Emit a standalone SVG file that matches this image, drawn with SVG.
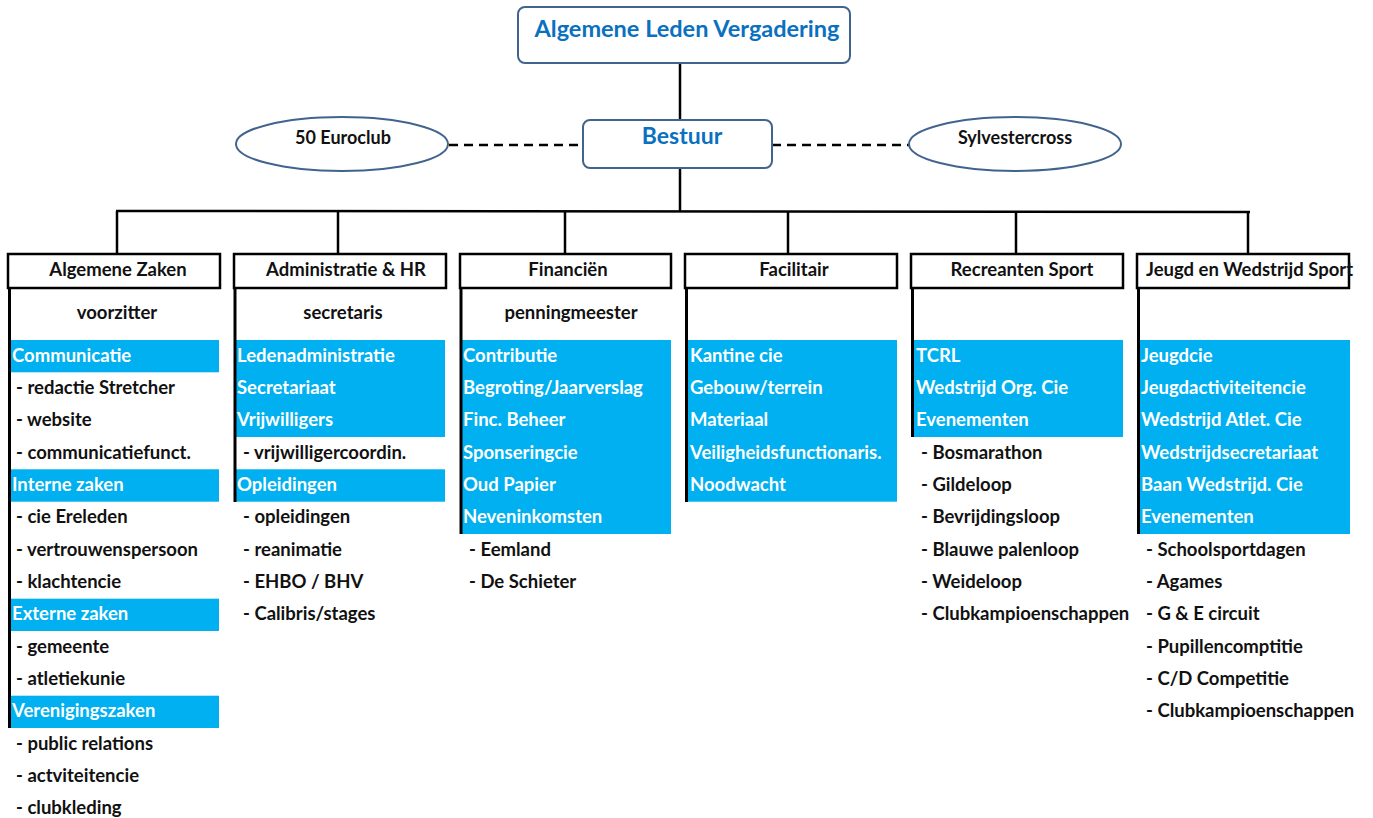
<svg xmlns="http://www.w3.org/2000/svg" width="1373" height="818" viewBox="0 0 1373 818">
<style>
text{font-family:Lato,"Liberation Sans",sans-serif;font-weight:bold;}
.top{fill:#fff;stroke:#41648f;stroke-width:2;}
.title{fill:#0a70c0;font-size:23.5px;text-anchor:middle;}
.oval{fill:#fff;stroke:#41648f;stroke-width:2;}
.otext{fill:#111;font-size:18px;text-anchor:middle;}
.hdr{fill:#fff;stroke:#000;stroke-width:2.5;}
.htext{fill:#111;font-size:18.5px;text-anchor:middle;}
.bar{stroke:#000;stroke-width:3;}
.blue{fill:#00b0f0;}
.w{fill:#fff;font-size:18.5px;}
.k{fill:#111;font-size:18.5px;}
.line{stroke:#000;stroke-width:2.5;fill:none;}
.dash{stroke:#000;stroke-width:2.5;stroke-dasharray:9 6;fill:none;}
</style>
<g id="connectors">
<line class="line" x1="680" y1="63" x2="680" y2="120"/>
<line class="line" x1="680" y1="168" x2="680" y2="211"/>
<line class="line" x1="116" y1="211" x2="1250" y2="212"/>
<line class="line" x1="117" y1="211" x2="117" y2="254"/>
<line class="line" x1="338" y1="211" x2="338" y2="254"/>
<line class="line" x1="565" y1="211" x2="565" y2="254"/>
<line class="line" x1="788" y1="211" x2="788" y2="254"/>
<line class="line" x1="1016" y1="212" x2="1016" y2="254"/>
<line class="line" x1="1248" y1="212" x2="1248" y2="254"/>
<line class="dash" x1="449" y1="145" x2="583" y2="145"/>
<line class="dash" x1="772" y1="145" x2="909" y2="145"/>
</g>
<g id="alv">
<rect class="top" x="518" y="7" width="332" height="56" rx="7"/>
<text class="title" x="687" y="37">Algemene Leden Vergadering</text>
</g>
<g id="bestuur">
<rect class="top" x="583" y="120" width="189" height="48" rx="7"/>
<text class="title" x="682" y="144" style="font-size:23px">Bestuur</text>
</g>
<g id="euroclub">
<ellipse class="oval" cx="342" cy="144" rx="106" ry="27"/>
<text class="otext" x="343" y="144">50 Euroclub</text>
</g>
<g id="sylvestercross">
<ellipse class="oval" cx="1015" cy="144" rx="106" ry="27"/>
<text class="otext" x="1015" y="144">Sylvestercross</text>
</g>
<g id="algemene-zaken">
<rect class="blue" x="10" y="340" width="209" height="32.3"/>
<rect class="blue" x="10" y="469.3" width="209" height="32.4"/>
<rect class="blue" x="10" y="598.7" width="209" height="32.3"/>
<rect class="blue" x="10" y="695.7" width="209" height="32.3"/>
<line class="bar" x1="9.5" y1="288" x2="9.5" y2="728"/>
<rect class="hdr" x="8" y="254" width="212" height="34"/>
<text class="htext" x="118" y="276">Algemene Zaken</text>
<text class="k" x="117" y="319" text-anchor="middle">voorzitter</text>
<text class="w" x="12" y="361.5">Communicatie</text>
<text class="k" x="16" y="393.8">- redactie Stretcher</text>
<text class="k" x="16" y="426.2">- website</text>
<text class="k" x="16" y="458.5">- communicatiefunct.</text>
<text class="w" x="12" y="490.8">Interne zaken</text>
<text class="k" x="16" y="523.2">- cie Ereleden</text>
<text class="k" x="16" y="555.5">- vertrouwenspersoon</text>
<text class="k" x="16" y="587.8">- klachtencie</text>
<text class="w" x="12" y="620.1">Externe zaken</text>
<text class="k" x="16" y="652.5">- gemeente</text>
<text class="k" x="16" y="684.8">- atletiekunie</text>
<text class="w" x="12" y="717.1">Verenigingszaken</text>
<text class="k" x="16" y="749.5">- public relations</text>
<text class="k" x="16" y="781.8">- actviteitencie</text>
<text class="k" x="16" y="814.1">- clubkleding</text>
</g>
<g id="administratie-hr">
<rect class="blue" x="236" y="340" width="209" height="97"/>
<rect class="blue" x="236" y="469.3" width="209" height="32.4"/>
<line class="bar" x1="235" y1="288" x2="235" y2="502"/>
<rect class="hdr" x="234" y="254" width="212" height="34"/>
<text class="htext" x="346" y="276">Administratie &amp; HR</text>
<text class="k" x="343" y="319" text-anchor="middle">secretaris</text>
<text class="w" x="237" y="361.5">Ledenadministratie</text>
<text class="w" x="237" y="393.8">Secretariaat</text>
<text class="w" x="237" y="426.2">Vrijwilligers</text>
<text class="k" x="243" y="458.5">- vrijwilligercoordin.</text>
<text class="w" x="237" y="490.8">Opleidingen</text>
<text class="k" x="243" y="523.2">- opleidingen</text>
<text class="k" x="243" y="555.5">- reanimatie</text>
<text class="k" x="243" y="587.8">- EHBO / BHV</text>
<text class="k" x="243" y="620.1">- Calibris/stages</text>
</g>
<g id="financien">
<rect class="blue" x="462" y="340" width="209" height="194"/>
<line class="bar" x1="461" y1="288" x2="461" y2="534"/>
<rect class="hdr" x="460" y="254" width="211" height="34"/>
<text class="htext" x="568" y="276">Financiën</text>
<text class="k" x="571" y="319" text-anchor="middle">penningmeester</text>
<text class="w" x="463" y="361.5">Contributie</text>
<text class="w" x="463" y="393.8">Begroting/Jaarverslag</text>
<text class="w" x="463" y="426.2">Finc. Beheer</text>
<text class="w" x="463" y="458.5">Sponseringcie</text>
<text class="w" x="463" y="490.8">Oud Papier</text>
<text class="w" x="463" y="523.2">Neveninkomsten</text>
<text class="k" x="469" y="555.5">- Eemland</text>
<text class="k" x="469" y="587.8">- De Schieter</text>
</g>
<g id="facilitair">
<rect class="blue" x="688" y="340" width="209" height="161.7"/>
<line class="bar" x1="686.5" y1="288" x2="686.5" y2="502"/>
<rect class="hdr" x="685" y="254" width="212" height="34"/>
<text class="htext" x="794" y="276">Facilitair</text>
<text class="w" x="690" y="361.5">Kantine cie</text>
<text class="w" x="690" y="393.8">Gebouw/terrein</text>
<text class="w" x="690" y="426.2">Materiaal</text>
<text class="w" x="690" y="458.5">Veiligheidsfunctionaris.</text>
<text class="w" x="690" y="490.8">Noodwacht</text>
</g>
<g id="recreanten-sport">
<rect class="blue" x="913" y="340" width="210" height="97"/>
<line class="bar" x1="912.5" y1="288" x2="912.5" y2="437"/>
<rect class="hdr" x="911" y="254" width="212" height="34"/>
<text class="htext" x="1022" y="276">Recreanten Sport</text>
<text class="w" x="916" y="361.5">TCRL</text>
<text class="w" x="916" y="393.8">Wedstrijd Org. Cie</text>
<text class="w" x="916" y="426.2">Evenementen</text>
<text class="k" x="921" y="458.5">- Bosmarathon</text>
<text class="k" x="921" y="490.8">- Gildeloop</text>
<text class="k" x="921" y="523.2">- Bevrijdingsloop</text>
<text class="k" x="921" y="555.5">- Blauwe palenloop</text>
<text class="k" x="921" y="587.8">- Weideloop</text>
<text class="k" x="921" y="620.1">- Clubkampioenschappen</text>
</g>
<g id="jeugd-wedstrijd-sport">
<rect class="blue" x="1140" y="340" width="210" height="194"/>
<line class="bar" x1="1138.5" y1="288" x2="1138.5" y2="534"/>
<rect class="hdr" x="1137" y="254" width="212" height="34"/>
<text class="k" x="1146" y="276">Jeugd en Wedstrijd Sport</text>
<text class="w" x="1141" y="361.5">Jeugdcie</text>
<text class="w" x="1141" y="393.8">Jeugdactiviteitencie</text>
<text class="w" x="1141" y="426.2">Wedstrijd Atlet. Cie</text>
<text class="w" x="1141" y="458.5">Wedstrijdsecretariaat</text>
<text class="w" x="1141" y="490.8">Baan Wedstrijd. Cie</text>
<text class="w" x="1141" y="523.2">Evenementen</text>
<text class="k" x="1146" y="555.5">- Schoolsportdagen</text>
<text class="k" x="1146" y="587.8">- Agames</text>
<text class="k" x="1146" y="620.1">- G &amp; E circuit</text>
<text class="k" x="1146" y="652.5">- Pupillencomptitie</text>
<text class="k" x="1146" y="684.8">- C/D Competitie</text>
<text class="k" x="1146" y="717.1">- Clubkampioenschappen</text>
</g>
</svg>
